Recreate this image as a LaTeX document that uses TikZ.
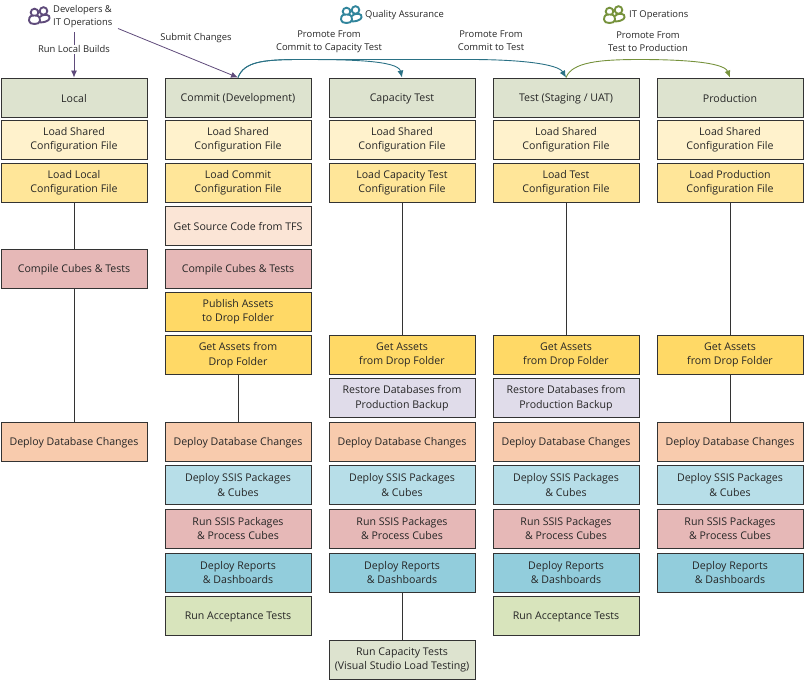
\documentclass[tikz,border=0pt]{standalone}
\usepackage{fontspec}
\setmainfont{Open Sans}
\usetikzlibrary{arrows.meta}
\definecolor{stageclr}{HTML}{DDE3CF}
\definecolor{sharedclr}{HTML}{FFF2CC}
\definecolor{loadclr}{HTML}{FFE699}
\definecolor{sourceclr}{HTML}{FBE5D6}
\definecolor{compileclr}{HTML}{E6B8B7}
\definecolor{assetclr}{HTML}{FFD966}
\definecolor{restoreclr}{HTML}{E0DCEA}
\definecolor{databaseclr}{HTML}{F8CBAD}
\definecolor{ssisclr}{HTML}{B7DEE8}
\definecolor{reportclr}{HTML}{92CDDC}
\definecolor{acceptclr}{HTML}{D8E4BC}
\definecolor{devclr}{HTML}{5F4B7B}
\definecolor{qaclr}{HTML}{31859C}
\definecolor{opsclr}{HTML}{76923C}
\tikzset{
  box/.style={draw=black!80, line width=.9pt, minimum width=146pt, minimum height=39pt, inner sep=0pt, align=center, font=\fontsize{10.6}{14.5}\selectfont, text=black!85, execute at begin node={\rule{0pt}{11pt}}},
  lbl/.style={align=center, inner sep=1pt, font=\fontsize{9.4}{13}\selectfont, text=black!85},
  link/.style={draw=black!80, line width=.9pt},
  people/.pic={
    \draw[#1, line width=1.9pt] (-4.5,-2.5) circle (3.8) (4.5,-4) circle (3.8);
    \draw[#1, line width=1.9pt, fill=white] (-10,6) .. controls (-10,1) and (-8,.5) .. (-4.5,.5) .. controls (-1,.5) and (1,1) .. (1,6) .. controls (1,10) and (-10,10) .. (-10,6);
    \draw[#1, line width=1.9pt] (1,2) .. controls (3,-.5) and (8,-1) .. (10,1) .. controls (11.5,4) and (10,7) .. (1,7.5);
  }
}
\begin{document}
\begin{tikzpicture}[x=1pt,y=-1pt]
\useasboundingbox (0,0) rectangle (805,680);
% local
\node[box, fill=stageclr] (local) at (74,97.5) {Local};
\node[box, fill=sharedclr] (localshared) at (74,139.5) {Load Shared\\Configuration File};
\node[box, fill=loadclr] (localload) at (74,182.5) {Load Local\\Configuration File};
\node[box, fill=compileclr] (localcompile) at (74,268.5) {Compile Cubes \& Tests};
\node[box, fill=databaseclr] (localdb) at (74,441.5) {Deploy Database Changes};
% commit
\node[box, fill=stageclr] (commit) at (238,97.5) {Commit (Development)};
\node[box, fill=sharedclr] (commitshared) at (238,139.5) {Load Shared\\Configuration File};
\node[box, fill=loadclr] (commitload) at (238,182.5) {Load Commit\\Configuration File};
\node[box, fill=sourceclr] (commitsource) at (238,225.5) {Get Source Code from TFS};
\node[box, fill=compileclr] (commitcompile) at (238,268.5) {Compile Cubes \& Tests};
\node[box, fill=assetclr] (commitpublish) at (238,311.5) {Publish Assets\\to Drop Folder};
\node[box, fill=assetclr] (commitget) at (238,355) {Get Assets from\\Drop Folder};
\node[box, fill=databaseclr] (commitdb) at (238,441.5) {Deploy Database Changes};
\node[box, fill=ssisclr] (commitssis) at (238,485) {Deploy SSIS Packages\\\& Cubes};
\node[box, fill=compileclr] (commitrun) at (238,528.5) {Run SSIS Packages\\\& Process Cubes};
\node[box, fill=reportclr] (commitreport) at (238,572.5) {Deploy Reports\\\& Dashboards};
\node[box, fill=acceptclr] (commitaccept) at (238,615.5) {Run Acceptance Tests};
% capacity test
\node[box, fill=stageclr] (capacity) at (402,97.5) {Capacity Test};
\node[box, fill=sharedclr] (capacityshared) at (402,139.5) {Load Shared\\Configuration File};
\node[box, fill=loadclr] (capacityload) at (402,182.5) {Load Capacity Test\\Configuration File};
\node[box, fill=assetclr] (capacityget) at (402,355) {Get Assets\\from Drop Folder};
\node[box, fill=restoreclr] (capacityrestore) at (402,398) {Restore Databases from\\Production Backup};
\node[box, fill=databaseclr] (capacitydb) at (402,441.5) {Deploy Database Changes};
\node[box, fill=ssisclr] (capacityssis) at (402,485) {Deploy SSIS Packages\\\& Cubes};
\node[box, fill=compileclr] (capacityrun) at (402,528.5) {Run SSIS Packages\\\& Process Cubes};
\node[box, fill=reportclr] (capacityreport) at (402,572.5) {Deploy Reports\\\& Dashboards};
\node[box, fill=stageclr] (capacityrunload) at (402,660) {Run Capacity Tests\\(Visual Studio Load Testing)};
% test
\node[box, fill=stageclr] (test) at (566,97.5) {Test (Staging / UAT)};
\node[box, fill=sharedclr] (testshared) at (566,139.5) {Load Shared\\Configuration File};
\node[box, fill=loadclr] (testload) at (566,182.5) {Load Test\\Configuration File};
\node[box, fill=assetclr] (testget) at (566,355) {Get Assets\\from Drop Folder};
\node[box, fill=restoreclr] (testrestore) at (566,398) {Restore Databases from\\Production Backup};
\node[box, fill=databaseclr] (testdb) at (566,441.5) {Deploy Database Changes};
\node[box, fill=ssisclr] (testssis) at (566,485) {Deploy SSIS Packages\\\& Cubes};
\node[box, fill=compileclr] (testrun) at (566,528.5) {Run SSIS Packages\\\& Process Cubes};
\node[box, fill=reportclr] (testreport) at (566,572.5) {Deploy Reports\\\& Dashboards};
\node[box, fill=acceptclr] (testaccept) at (566,615.5) {Run Acceptance Tests};
% production
\node[box, fill=stageclr] (prod) at (730,97.5) {Production};
\node[box, fill=sharedclr] (prodshared) at (730,139.5) {Load Shared\\Configuration File};
\node[box, fill=loadclr] (prodload) at (730,182.5) {Load Production\\Configuration File};
\node[box, fill=assetclr] (prodget) at (730,355) {Get Assets\\from Drop Folder};
\node[box, fill=databaseclr] (proddb) at (730,441.5) {Deploy Database Changes};
\node[box, fill=ssisclr] (prodssis) at (730,485) {Deploy SSIS Packages\\\& Cubes};
\node[box, fill=compileclr] (prodrun) at (730,528.5) {Run SSIS Packages\\\& Process Cubes};
\node[box, fill=reportclr] (prodreport) at (730,572.5) {Deploy Reports\\\& Dashboards};
% roles
\pic at (39,15) {people=devclr};
\pic at (351,14) {people=qaclr};
\pic at (614,14) {people=opsclr};
\node[lbl, align=left, anchor=west] (developers) at (52,16.5) {Developers \&\\IT Operations};
\node[lbl, anchor=west] (qa) at (364,15) {Quality Assurance};
\node[lbl, anchor=west] (ops) at (628,15) {IT Operations};
% step links
\draw[link] (localload) -- (localcompile);
\draw[link] (localcompile) -- (localdb);
\draw[link] (commitget) -- (commitdb);
\draw[link] (capacityload) -- (capacityget);
\draw[link] (capacityreport) -- (capacityrunload);
\draw[link] (testload) -- (testget);
\draw[link] (prodload) -- (prodget);
\draw[link] (prodget) -- (proddb);
% promotions
\coordinate (devout) at (74,32);
\coordinate (submit) at (118,28.5);
\draw[devclr, line width=.8pt, -{Latex[length=7pt,width=6pt]}] (devout) -- (local.north) node[lbl, pos=.38, fill=white, text=black!85] (runlocal) {Run Local Builds};
\draw[devclr, line width=.8pt, -{Latex[length=7pt,width=6pt]}] (submit) -- (commit.north);
\draw[qaclr!85!black, line width=.9pt, -{Latex[length=7pt,width=6pt]}] (commit.north) .. controls (244,62) and (262,59.5) .. (300,59.5) .. controls (345,59.5) and (398,60) .. (capacity.north);
\draw[qaclr!85!black, line width=.9pt, -{Latex[length=7pt,width=6pt]}] (commit.north) .. controls (244,62) and (262,59.5) .. (300,59.5) -- (470,59.5) .. controls (520,59.5) and (558,64) .. (test.north);
\draw[opsclr, line width=.9pt, -{Latex[length=7pt,width=6pt]}] (test.north) .. controls (572,62) and (600,59.5) .. (640,59.5) .. controls (680,59.5) and (724,62) .. (prod.north);
\node[lbl] (submitlbl) at (196,38) {Submit Changes};
\node[lbl] (promotecap) at (329,41.5) {Promote From\\Commit to Capacity Test};
\node[lbl] (promotetest) at (491,41) {Promote From\\Commit to Test};
\node[lbl] (promoteprod) at (648,41.5) {Promote From\\Test to Production};
\end{tikzpicture}
\end{document}
